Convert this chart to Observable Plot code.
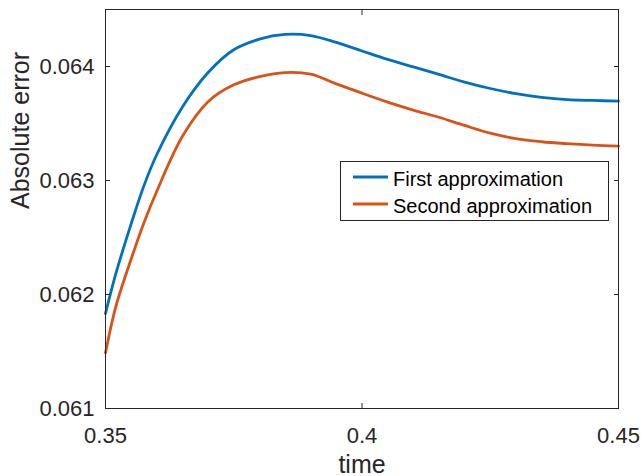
<!DOCTYPE html>
<html>
<head>
<meta charset="utf-8">
<script src="https://cdn.jsdelivr.net/npm/d3@7"></script>
<script src="https://cdn.jsdelivr.net/npm/@observablehq/plot@0.6"></script>
<style>
  html, body { margin: 0; padding: 0; background: #fff; }
  #chart svg { display: block; }
</style>
</head>
<body>
<div id="chart"></div>
<script>
// ---- data ----
const time = [0.35, 0.352, 0.355, 0.3575, 0.36, 0.365, 0.37, 0.375, 0.38, 0.385, 0.39, 0.395,
              0.40, 0.405, 0.41, 0.415, 0.42, 0.425, 0.43, 0.435, 0.44, 0.445, 0.45];
const firstApprox = [0.061833, 0.062180, 0.062620, 0.062955, 0.063228, 0.063645, 0.063947, 0.064147,
                     0.064240, 0.064281, 0.064271, 0.064211, 0.064136, 0.064062, 0.063996,
                     0.063931, 0.063863, 0.063807, 0.063762, 0.063730, 0.063710, 0.063702, 0.063696];
const secondApprox = [0.061488, 0.061892, 0.062311, 0.062630, 0.062906, 0.063388, 0.063691, 0.063839,
                      0.063911, 0.063947, 0.063933, 0.063848, 0.063766, 0.063688, 0.063618,
                      0.063555, 0.063483, 0.063415, 0.063367, 0.063340, 0.063323, 0.063310, 0.063301];
const seriesNames = ["First approximation", "Second approximation"];
const seriesColors = ["#0072BD", "#D95319"];
const xTicks = [0.35, 0.4, 0.45];
const yTicks = [0.061, 0.062, 0.063, 0.064];
const xDomain = [0.35, 0.45];
const yDomain = [0.061, 0.0645];
const xLabel = "time";
const yLabel = "Absolute error";

const series = [firstApprox, secondApprox];
const table = series.flatMap((vals, s) =>
  time.map((t, i) => ({time: t, value: vals[i], series: seriesNames[s]})));

const ink = "#262626";
const font = "'Liberation Sans', Arial, Helvetica, sans-serif";

const chart = Plot.plot({
  width: 641,
  height: 476,
  marginLeft: 105,
  marginRight: 23,
  marginTop: 9,
  marginBottom: 68,
  x: {domain: xDomain},
  y: {domain: yDomain},
  color: {domain: seriesNames, range: seriesColors},
  style: {fontFamily: font, fontSize: "22px", color: ink, background: "#fff"},
  marks: [
    Plot.line(table, {x: "time", y: "value", stroke: "series", strokeWidth: 2.8, curve: "catmull-rom"}),
    Plot.frame({stroke: ink, strokeWidth: 1}),
    Plot.axisX(xTicks, {anchor: "bottom", tickSize: -5, tickPadding: 24, tickFormat: d => String(d), label: null, fontSize: 22}),
    Plot.axisX(xTicks, {anchor: "top", tickSize: -5, tickFormat: () => "", label: null}),
    Plot.axisY(yTicks, {anchor: "left", tickSize: -5, tickPadding: 16, tickFormat: d => String(d), label: null, fontSize: 22}),
    Plot.axisY(yTicks, {anchor: "right", tickSize: -5, tickFormat: () => "", label: null}),
    Plot.text([xLabel], {frameAnchor: "bottom", text: d => d, dy: 64, lineAnchor: "bottom", fontSize: 25, fill: ink}),
    Plot.text([yLabel], {frameAnchor: "left", text: d => d, rotate: -90, dx: -77, lineAnchor: "bottom", fontSize: 25, fill: ink})
  ]
});

document.getElementById("chart").appendChild(chart);

// ---- legend (inside the axes, MATLAB style) ----
const svg = d3.select(chart);
const lg = svg.append("g").attr("font-family", font).attr("font-size", 20).attr("text-anchor", "start");
lg.append("rect").attr("x", 340.5).attr("y", 161.5).attr("width", 268).attr("height", 59)
  .attr("fill", "#fff").attr("stroke", ink).attr("stroke-width", 1);
seriesNames.forEach((name, i) => {
  const cy = 177 + i * 27;
  lg.append("line").attr("x1", 353).attr("x2", 388).attr("y1", cy).attr("y2", cy)
    .attr("stroke", seriesColors[i]).attr("stroke-width", 2.8);
  lg.append("text").attr("x", 393).attr("y", cy + 8.5).attr("fill", "#000")
    .attr("text-anchor", "start").text(name);
});
</script>
</body>
</html>
